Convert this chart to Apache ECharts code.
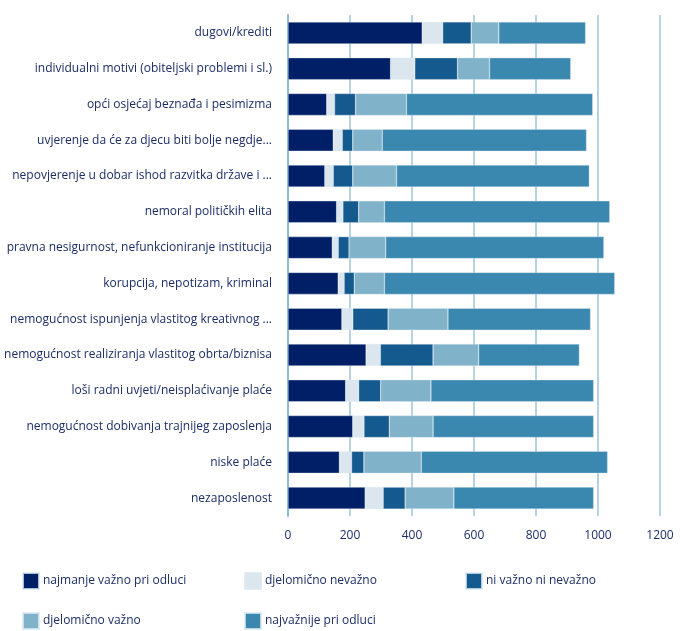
<!DOCTYPE html>
<html><head><meta charset="utf-8">
<script src="https://cdn.jsdelivr.net/npm/echarts@6/dist/echarts.min.js"></script>
<style>html,body{margin:0;padding:0;background:#fff}#c{width:680px;height:631px}</style>
</head><body><div id="c"></div>
<script>
const categories = [
  "dugovi/krediti",
  "individualni motivi (obiteljski problemi i sl.)",
  "opći osjećaj beznađa i pesimizma",
  "uvjerenje da će za djecu biti bolje negdje...",
  "nepovjerenje u dobar ishod razvitka države i ...",
  "nemoral političkih elita",
  "pravna nesigurnost, nefunkcioniranje institucija",
  "korupcija, nepotizam, kriminal",
  "nemogućnost ispunjenja vlastitog kreativnog ...",
  "nemogućnost realiziranja vlastitog obrta/biznisa",
  "loši radni uvjeti/neisplaćivanje plaće",
  "nemogućnost dobivanja trajnijeg zaposlenja",
  "niske plaće",
  "nezaposlenost"
];
const seriesNames = ["najmanje važno pri odluci","djelomično nevažno","ni važno ni nevažno","djelomično važno","najvažnije pri odluci"];
const najmanjeVazno   = [433,331,125,146,119,157,143,162,174,252,186,209,166,249];
const djelomicnoNevazno = [66,78,25,29,27,20,19,19,35,46,42,36,39,58];
const niVazno         = [92,138,68,34,63,51,35,33,114,170,71,82,40,71];
const djelomicnoVazno = [89,103,164,95,141,83,118,97,193,147,162,141,185,157];
const najvaznije      = [280,262,601,659,622,727,704,743,460,325,525,518,601,451];
const xTicks = [0,200,400,600,800,1000,1200];

const colors = ["#001f66","#dbe6ee","#145a8f","#80b2ca","#3a88b0"];
const values = [najmanjeVazno,djelomicnoNevazno,niVazno,djelomicnoVazno,najvaznije];
const txt = "#1b2d66";
const font = "'Open Sans', sans-serif";

const legendPos = [[22,572],[244,572],[465,572],[22,612],[244,612]];
const chart = echarts.init(document.getElementById('c'));
chart.setOption({
  animation:false,
  grid:{left:288,right:20,top:15,bottom:115,containLabel:false,outerBoundsMode:'none'},
  legend: seriesNames.map((n,i)=>({
    data:[n], left:legendPos[i][0], top:legendPos[i][1], icon:'rect', padding:0,
    itemWidth:16, itemHeight:16, itemGap:4,
    textStyle:{color:txt,fontFamily:font,fontSize:12,padding:[0,0,0,-1]}
  })),
  xAxis:{type:'value',min:xTicks[0],max:xTicks[xTicks.length-1],interval:200,
    axisLine:{show:false},axisTick:{show:false},
    axisLabel:{color:txt,fontFamily:font,fontSize:12,margin:14,formatter:v=>String(v)},
    splitLine:{lineStyle:{color:'#9cc4d8',width:1.5}}},
  yAxis:{type:'category',data:categories,inverse:true,
    axisLine:{show:true,lineStyle:{color:'#8dbbd2',width:2}},
    axisTick:{show:false},
    axisLabel:{color:txt,fontFamily:font,fontSize:12,margin:16}},
  series: seriesNames.map((n,i)=>({
    name:n,type:'bar',stack:'all',data:values[i],barWidth:22,
    itemStyle:{color:colors[i],borderColor:'rgba(220,232,240,0.8)',borderWidth:0.5}
  }))
});
</script></body></html>
